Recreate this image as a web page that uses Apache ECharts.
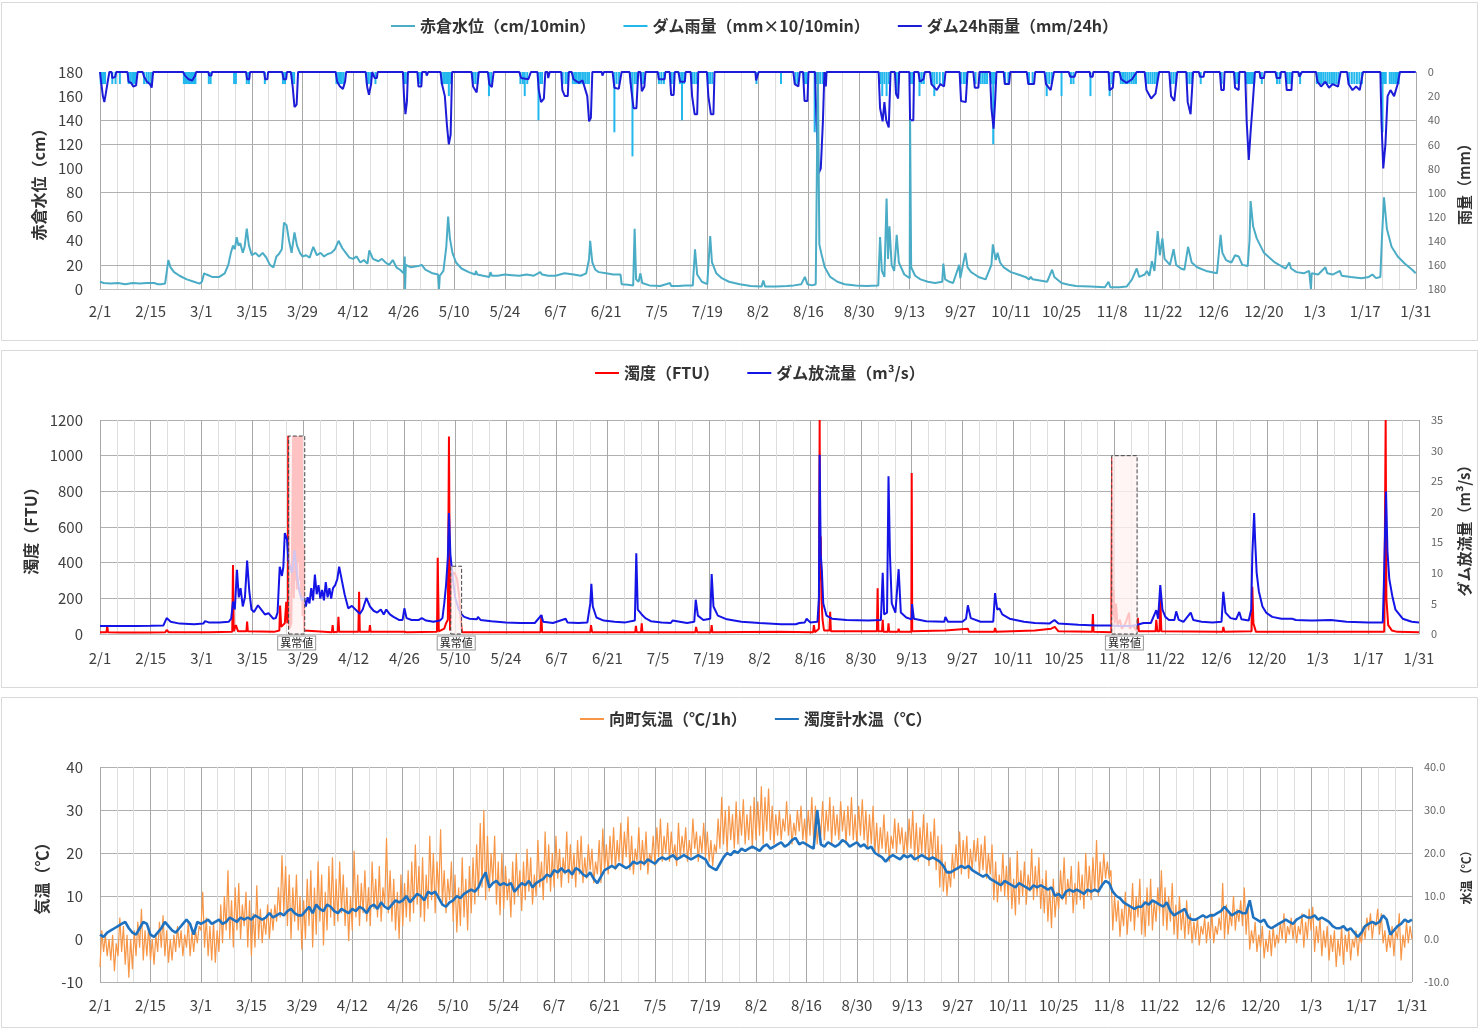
<!DOCTYPE html>
<html>
<head>
<meta charset="utf-8">
<title>赤倉 水位・濁度・水温</title>
<script src="https://cdn.jsdelivr.net/npm/echarts@6/dist/echarts.min.js"></script>
<style>
  html, body { margin: 0; padding: 0; background: #fff; }
  #chart { width: 1480px; height: 1029px; }
</style>
</head>
<body>
<div id="chart"></div>
<script>
var FONT = '"Noto Sans CJK JP", "Noto Sans", sans-serif';

// x axis is days since 2/1, one label every 14 days
var TICK_LABELS = ['2/1', '2/15', '3/1', '3/15', '3/29', '4/12', '4/26', '5/10', '5/24', '6/7', '6/21',
  '7/5', '7/19', '8/2', '8/16', '8/30', '9/13', '9/27', '10/11', '10/25', '11/8', '11/22', '12/6',
  '12/20', '1/3', '1/17', '1/31'];

// --- panel 1: water level (cm) and rain (mm, inverted right axis) ---
var LEVEL = [
  [0,6],[0.5,7],[1,5],[3,4.5],[5,5],[7,4],[9,5],[11,4.5],[13,5],[15,5],[16,4],[17,4],[18,4.5],[18.5,15],[18.9,24],
  [19.5,18],[20.5,14],[22,11],[24,8],[26,6],[27.5,4.5],[28.2,6],[28.8,13],[29.5,12],[31,10],[33,10],[34.5,13],
  [35.5,20],[36.2,30],[36.8,36],[37.3,33],[37.8,43],[38.3,36],[38.8,38],[39.5,30],[40,35],[40.6,50],[41.2,36],
  [42,28],[43,30],[44,27],[45,30],[46,26],[47,20],[48,18],[48.8,27],[49.5,29],[50.3,33],[50.9,55],[51.6,53],
  [52.3,40],[53,30],[53.8,47],[54.5,36],[55.3,30],[56,27],[57,28],[58,26],[59,35],[60,28],[61,30],[62,27],
  [63,29],[64,30],[65,33],[66,40],[67,34],[68,30],[69,26],[70,25],[71,27],[72,22],[73,24],[74,21],[74.5,32],
  [75.5,25],[77,23],[78,25],[79,22],[80,20],[81,24],[82,18],[83,16],[84,13],[84.3,27],[84.4,0],[84.6,20],
  [86,18],[88,19],[89,20],[90,16],[92,13],[93.5,12],[93.8,0],[94,11],[95,15],[95.8,35],[96.3,60],[96.8,42],
  [97.5,30],[98.5,22],[100,17],[102,14],[103.8,12],[104,15],[104.4,12],[106,11],[107.7,10],[108,14],[108.4,11],
  [110,11],[112,12],[114,11.5],[116,11],[118,12],[120,11],[121.8,14],[122.3,12],[124,11],[126,11],[128.5,13],
  [129,11.5],[131,12],[133,11],[134.5,13],[135.3,25],[135.6,40],[136.2,22],[137,16],[138,14],[140,13],[142,12],
  [144,12],[144.3,4],[146,3.5],[147.5,3],[147.9,50],[148.3,8],[149,6],[149.5,13],[150,5],[152,3],[155,2.5],
  [157.7,5],[158,2.5],[160,2.5],[162,3],[164,3],[164.6,33],[165.2,12],[166.5,6],[168,4],[168.8,44],[169.3,22],
  [170.5,13],[172,9],[174,6],[177,4],[180,2.5],[183,2],[183.5,7],[184,2],[187,2],[190,2.5],[192,3],[194,4],
  [195,10],[195.7,4],[197,3],[198,4],[198.6,180],[199,37],[199.5,30],[200.5,18],[202,10],[204,6],[206,4],
  [209,3],[212,2.5],[215.3,3],[215.8,43],[216.3,15],[217,10],[217.6,75],[218,25],[218.4,52],[219,20],
  [219.7,15],[220.4,45],[221,22],[222.5,12],[224,9],[224.1,140],[224.4,18],[225.5,11],[227,8],[229,6],[231,5],
  [233,6],[233.3,21],[233.8,8],[235,6],[236,5],[237.7,20],[238,9],[239.4,30],[240,18],[241,14],[242,12],
  [243,10],[245,8],[246.6,20],[247,37],[247.8,24],[248.3,30],[249,22],[250,18],[252,14],[254,12],[256,10],
  [257,8],[257.5,10],[258,8],[260,7],[262,6],[263.4,16],[264,10],[266,5],[268,3.5],[270,2.5],[274,2],[278,1.5],
  [279,6],[279.5,1.5],[282,1.5],[284,2],[285.5,8],[286.8,17],[287.5,10],[289,12],[289.6,15],[290.3,11],[291,23],
  [291.7,15],[292.6,48],[293.2,28],[293.9,42],[294.5,25],[296,20],[297,33],[297.7,20],[299,17],[300,16],
  [301,35],[302,22],[303.5,18],[306,15],[309,13],[310,45],[310.5,30],[311.5,24],[313,22],[314,28],[315,27],
  [316,20],[317.5,19],[318,40],[318.3,73],[319,52],[320,42],[322,30],[325,22],[328,17],[329,22],[329.5,17],
  [331,14],[333,13],[334.5,15],[335,0],[335.2,13],[337,12],[339,18],[339.5,13],[341,12],[343,15],[343.5,11],
  [346,10],[349,9],[351,10],[352,12],[353,9],[354.2,10],[354.6,40],[355.2,76],[356,50],[357.3,35],[359,27],
  [361,21],[363,16],[364,13]
];

var RAIN_10MIN = [
  [0.2,10],[0.5,10],[0.8,10],[1.1,10],[1.4,10],[3.4,10],[4.3,10],[5.5,10],[7.9,10],[8.4,10],[8.9,10],[9.4,10],
  [9.9,10],[12.2,10],[12.9,10],[13.5,10],[14.2,10],[23.2,10],[23.6,10],[24,10],[24.4,10],[24.8,10],[25.2,10],
  [25.6,10],[26,10],[26.4,10],[30.1,10],[30.6,10],[37.1,10],[37.6,10],[40.6,10],[41.2,10],[45.6,10],[50.6,10],
  [51.2,10],[53.2,10],[53.7,10],[65.4,10],[65.9,10],[66.4,10],[66.9,10],[67.4,10],[73.8,10],[74.3,10],[74.8,10],
  [76.2,10],[84.2,10],[84.6,10],[88.2,10],[88.7,10],[94.5,10],[95,10],[95.4,10],[95.8,10],[96.2,10],[96.5,20],
  [96.9,10],[103.2,10],[103.8,10],[104.4,10],[107.6,20],[108.2,10],[116.3,10],[117,10],[117.5,20],[118.2,10],
  [121.3,40],[121.8,10],[122.3,10],[128,10],[128.8,10],[129.3,10],[130.8,10],[131.4,10],[131.9,10],[132.5,10],
  [133,10],[133.6,10],[134.2,10],[134.8,10],[135.3,10],[142.3,50],[142.9,10],[143.6,10],[146.8,10],[147.3,70],
  [147.9,10],[148.4,10],[149.8,10],[150.3,10],[154.6,10],[155.3,10],[156,10],[158,10],[158.6,10],[160.4,10],
  [161,40],[161.6,10],[163.8,10],[164.4,10],[165,10],[168.3,10],[168.8,10],[169.4,10],[181.6,10],[188.4,10],
  [192.4,10],[193,10],[195,10],[195.5,10],[197.7,50],[198.3,10],[198.8,10],[199.3,10],[200,10],[215.9,10],
  [216.4,20],[217,10],[217.6,20],[218.2,10],[220.4,20],[220.9,10],[224.3,10],[224.8,10],[226.7,20],[227.3,10],
  [227.9,10],[230.2,10],[230.8,20],[231.5,10],[232.3,10],[233.2,10],[238.3,10],[239,10],[239.6,10],[242.2,10],
  [243.6,10],[244.2,10],[244.8,10],[245.4,10],[246.7,10],[247.1,60],[247.5,10],[250.4,10],[251.3,10],[257,10],
  [258,10],[261.9,20],[262.6,10],[263.3,10],[266,20],[268.6,10],[269.3,10],[274,20],[279.3,20],[280,10],
  [282.4,10],[283,10],[283.6,10],[284.2,10],[284.8,10],[285.4,10],[286,10],[286.6,10],[289.4,10],[290,10],
  [290.6,10],[291.2,10],[291.8,10],[292.4,10],[296.4,10],[297,10],[297.6,10],[300.8,10],[301.4,10],[302,10],
  [304.5,10],[310.3,10],[314.2,10],[314.8,10],[317.3,10],[317.7,10],[318.1,10],[318.5,10],[318.9,10],[319.3,10],
  [321.4,10],[325.6,10],[326.3,10],[328.4,10],[329,10],[329.5,10],[332,10],[336.6,10],[337.2,10],[337.8,10],
  [338.4,10],[339,10],[339.6,10],[340.2,10],[340.8,10],[341.4,10],[342,10],[342.6,10],[345.6,10],[346.3,10],
  [347,10],[347.7,10],[348.4,10],[349.1,10],[354.4,10],[354.8,50],[355.2,10],[355.7,10],[356.8,10],[357.3,10],
  [357.8,10],[358.3,10],[358.8,10],[359.3,10]
];

var RAIN_24H = [
  [0,0],[0.3,8],[0.8,20],[1.2,25],[1.6,18],[2.3,5],[2.6,0],[3.2,0],[3.4,5],[4.2,4],[4.5,0],
  [7.6,0],[7.9,8],[8.6,9],[9.2,12],[10,11],[10.4,0],[11.8,0],[12.2,4],[13,8],[13.8,10],[14.3,13],[14.7,0],
  [23,0],[23.5,3],[24.5,6],[25.5,7],[26.3,3],[26.6,0],[30,0],[30.2,3],[30.8,3],[31,0],
  [40.4,0],[40.7,6],[41.3,6],[41.5,0],[45.4,0],[45.7,6],[46.3,6],[46.5,0],[50.4,0],[50.8,6],[51.5,6],[51.7,0],
  [52.8,0],[53.3,12],[53.8,29],[54.4,27],[54.8,0],[65.2,0],[65.6,8],[66.4,12],[67.2,14],[67.8,8],[68.1,0],
  [73.5,0],[73.9,12],[74.4,19],[75,10],[75.3,0],[75.8,0],[76,5],[76.6,5],[76.8,0],
  [83.8,0],[84.1,20],[84.5,35],[84.9,25],[85.2,0],[87.8,0],[88.1,12],[88.9,12],[89.1,0],[90.2,0],[90.4,3],[90.8,0],
  [94.2,0],[94.6,10],[95.4,20],[96,45],[96.5,60],[97,52],[97.4,0],[102.8,0],[103.2,12],[104.2,17],[104.8,0],
  [107.3,0],[107.7,10],[108.4,12.6],[108.9,0],[116,0],[116.5,5],[118.5,6],[119.2,0],
  [121,0],[121.4,15],[122,25],[122.8,22],[123.2,0],[123.8,0],[124,5],[124.4,0],
  [127.6,0],[127.9,15],[128.6,20],[129.4,20],[129.7,0],[130.5,0],[131,6],[132.5,9],[133.5,7],[134.8,20],
  [135.3,41],[135.8,38],[136.2,0],[138.8,0],[139,3],[139.4,0],[141.8,0],[142.3,13],[143.5,14],[144.3,0],
  [146.5,0],[147,15],[147.6,30],[148.4,30],[148.9,0],[149.5,0],[149.9,16],[150.6,12],[150.9,0],
  [154.3,0],[154.6,6],[156.2,6],[156.4,0],[157.6,0],[158,19],[158.7,19],[159,0],[160,0],[160.5,8],[161.8,8],[162,0],
  [163.4,0],[163.8,20],[164.5,35],[165.2,35],[165.5,0],[167.9,0],[168.3,20],[169,35],[169.7,35],[170,0],
  [181.3,0],[181.5,7],[182,7],[182.2,0],[191.8,0],[192.2,10],[193.2,12],[193.6,0],[194.5,0],[194.9,24],
  [195.7,24],[196,0],[197.8,0],[198.2,40],[198.8,84],[199.4,80],[200,40],[200.4,0],[200.6,0],[200.8,12],[201,0],
  [215.4,0],[215.8,30],[216.5,41],[217,25],[217.5,40],[218.2,46],[218.7,0],[219.9,0],[220.2,18],[220.8,22],[221.1,0],
  [223.9,0],[224.1,40],[225,40],[225.2,0],[226.4,0],[226.8,8],[227.8,6],[228.2,0],
  [229.6,0],[230,10],[231.5,15],[232.5,10],[233.5,12],[233.9,0],[237.8,0],[238.2,24],[239.5,25],[240,0],
  [241.6,0],[242,13],[243,13],[243.3,0],[246.2,0],[246.6,30],[247.2,47],[247.7,20],[248,0],
  [250,0],[250.3,10],[251.5,10],[251.8,0],[256.4,0],[256.8,10],[258.4,10],[258.7,0],
  [261.3,0],[261.7,10],[263,15],[263.9,0],[268,0],[268.4,4],[269.6,4],[270,0],[273.8,0],[274,4],[274.6,4],[274.8,0],
  [279,0],[279.3,15],[280.2,13],[280.5,0],[282,0],[282.5,6],[284,9],[285.5,6],[286.8,0],
  [289,0],[289.5,15],[290.8,22],[292,18],[293,0],[295.8,0],[296.3,20],[297.2,24],[298,0],
  [300.5,0],[300.9,25],[301.7,35],[302.4,0],[304,0],[304.3,4],[305.3,4],[305.5,0],
  [309.8,0],[310.2,15],[310.9,15],[311.1,0],[313.7,0],[314,13],[315,15],[315.2,0],
  [316.8,0],[317.2,40],[317.8,73],[318.3,50],[318.8,30],[319.5,0],[320.8,0],[321,5],[322,5],[322.2,0],
  [325.2,0],[325.5,5],[326.5,5],[326.7,0],[327.9,0],[328.3,15],[329.6,15],[329.9,0],[331.5,0],[331.8,4],[332.5,0],
  [336.4,0],[336.8,8],[337.8,12],[339,8],[340,13],[341,10],[342.5,12],[343.2,0],
  [345,0],[345.4,10],[346.5,15],[347.5,12],[348.5,15],[349.4,0],
  [354.2,0],[354.5,40],[355,80],[355.6,60],[356.2,20],[357,15],[358,20],[359,10],[359.6,0],[364,0]
];

// value lines of the left axis that carry a grid line in panel 1
var P1_GRID_LINES = [20, 80, 120, 140];

// --- panel 2: turbidity (FTU) and dam discharge (m3/s) ---
var TURBIDITY = [
  [0,10],[1.8,10],[2,45],[2.2,10],[6,8],[12,8],[18,10],[18.4,22],[19,10],[30,10],[36.5,12],[36.7,387],[36.9,15],
  [37.5,50],[37.8,60],[38.1,15],[40.4,15],[40.6,70],[40.8,15],[48,12],[49.5,20],[49.7,160],[50,40],[51,60],
  [51.4,180],[51.7,60],[51.85,100],[51.95,1112],[52.1,1112],[52.3,30],[52.8,60],[53.3,1110],[53.5,200],
  [53.7,1110],[53.9,300],[54.1,1110],[54.3,250],[54.5,1110],[54.7,400],[54.9,1110],[55.1,300],[55.3,1110],
  [55.5,200],[55.7,1110],[55.9,100],[56.1,500],[56.3,20],[56.6,10],[64,10],[64.2,50],[64.4,10],[65.6,12],
  [65.8,97],[66,12],[71.3,12],[71.5,237],[71.7,12],[74.3,12],[74.5,50],[74.7,12],[84,12],[84.3,18],[84.6,10],
  [93,12],[93.2,428],[93.35,220],[93.5,15],[95,30],[95.5,60],[96,80],[96.3,1107],[96.6,20],[96.8,150],[97,380],
  [97.3,330],[97.8,345],[98.5,310],[99.2,200],[99.6,60],[99.9,10],[110,10],[121.6,10],[121.8,106],[122,10],
  [128.3,10],[128.5,20],[128.7,10],[135.3,10],[135.5,50],[135.8,10],[147.7,10],[147.9,45],[148.1,10],[149.3,10],
  [149.5,60],[149.7,10],[164.3,10],[164.5,40],[164.8,10],[168.6,10],[168.8,50],[169,10],[187.5,12],[196.8,10],
  [197,50],[197.3,10],[198.4,30],[198.6,1200],[198.75,300],[198.9,546],[199.1,200],[199.4,80],[199.8,20],
  [201.3,20],[201.5,125],[201.7,15],[214.4,15],[214.6,256],[214.8,15],[215.8,15],[216,80],[216.2,12],[217.4,12],
  [217.6,60],[217.8,12],[220.2,12],[220.4,30],[220.6,12],[223.9,12],[224,903],[224.15,15],[233.3,20],[233.5,12],
  [239.5,30],[239.8,12],[246.8,12],[247,34],[247.3,12],[258,20],[258.3,12],[262.5,30],[263.5,40],[264.5,15],
  [273.8,12],[274,112],[274.2,12],[279.1,10],[279.3,990],[279.5,100],[279.7,250],[280,60],[280.4,170],[280.8,50],
  [281.5,80],[282,30],[283,60],[284,120],[284.2,30],[285,50],[286,20],[286.2,12],[286.4,90],[286.7,15],
  [291.3,15],[291.5,80],[291.8,15],[292.4,15],[292.6,200],[292.9,15],[309.8,12],[310,40],[310.3,12],[317.8,15],
  [318,265],[318.3,60],[318.6,40],[319,12],[354.4,12],[354.6,20],[354.8,1200],[355,200],[355.5,50],[356.5,20],
  [358,12],[364,10]
];

var DISCHARGE = [
  [0,1.3],[5,1.3],[10,1.3],[14,1.35],[17.5,1.4],[18.4,2.6],[19.5,2],[22,1.7],[26,1.6],[28.5,1.7],[29,2.1],
  [30,1.9],[33,1.9],[35.5,2],[36.2,2.5],[36.7,5.3],[37.2,4],[37.8,10.5],[38.3,6],[38.8,7.5],[39.4,4.5],[40,6],
  [40.6,12],[41.2,7],[41.8,4],[42.5,3.6],[43.6,4.7],[44.5,4],[45.5,3.2],[46.5,3.4],[47.8,2.5],[48.5,2.6],
  [49,3.5],[49.6,11],[50.2,9.5],[50.6,11],[51,16.5],[51.6,15.5],[52,12],[53,10],[53.7,13.7],[54.3,10],[55,7],
  [55.7,5.5],[56.3,6],[56.8,4.5],[57.3,6],[57.8,5],[58.3,7.5],[58.8,5.5],[59.3,9.7],[59.8,6.5],[60.3,8],
  [60.8,5.8],[61.3,7.2],[61.8,5.5],[62.3,8.5],[62.8,6],[63.3,7.5],[63.8,5.8],[64.3,7.5],[64.9,8],[65.5,9],
  [66,11],[66.5,9.5],[67,8],[67.5,6.5],[68.5,4.2],[69.5,4.6],[70.5,4],[71.7,3.3],[72.5,4],[73.5,5.9],[74.5,4.5],
  [75.5,3.8],[76.5,3.5],[77.5,4],[78.3,3.2],[79,4],[80,3.2],[81,2.8],[82.5,2.3],[83.5,2.3],[84,4.2],[84.6,2.6],
  [86,2.3],[88,2.3],[88.8,2.6],[90,2.2],[92,2],[93.8,2.2],[94.5,2.6],[95,5],[95.5,8],[96,12.6],[96.3,19.8],
  [96.7,13],[97.2,10],[98,6],[99,4],[99.8,3.2],[100.5,2.8],[102,2.5],[104,2.4],[104.3,2.8],[105,2.3],[108,2.1],
  [112,1.9],[116,1.8],[120,1.8],[121.8,3.1],[122.3,2],[125,1.8],[128.5,2.5],[129,1.9],[132,1.8],[134.5,1.9],
  [135.3,5],[135.6,8.2],[136,4.5],[137,2.7],[139,2.2],[142,2],[145,1.9],[147.6,2.2],[148,13.2],[148.4,4],
  [149.5,3.2],[150.5,2.6],[152,2.1],[155,1.9],[157.5,1.8],[158,2.2],[158.5,1.9],[162,1.8],[164,2],[164.4,5.6],
  [165,3],[166.5,2.3],[168.4,2.5],[168.8,9.8],[169.3,4.5],[170.5,3],[173,2.4],[177,2],[182,1.8],[188,1.6],
  [192,1.6],[193,1.8],[194.5,1.9],[195,2.5],[196,1.9],[198,2],[198.4,6],[198.6,29.3],[198.9,13],[199.2,10.5],
  [199.6,5],[200.5,3],[202,2.5],[206,2.3],[212,2.2],[215.5,2.3],[216,10],[216.4,3.2],[217.2,3.5],[217.6,25.8],
  [218,13],[218.5,5],[219.5,3.5],[220.4,10.6],[221,3.5],[222.5,2.7],[224,2.4],[224.1,4.9],[224.6,2.5],[228,2.1],
  [233,2],[233.3,2.8],[234,2],[238,2],[239,2.5],[239.5,4.7],[240.3,2.6],[243,2],[246.5,2],[247,6.7],[247.6,4],
  [248.2,4.2],[249,3.2],[251,2.5],[255,2],[258,1.8],[258.5,2],[262,1.7],[263.4,2.3],[264.5,1.7],[270,1.5],
  [275,1.4],[279,1.4],[281,1.3],[283,1.3],[285,1.3],[286.2,1.5],[288,1.8],[290,1.8],[291.5,3.9],[292,2.5],
  [292.6,8],[293.2,4],[294,2.8],[295,2.3],[296.5,2.3],[297,3.7],[297.7,2.3],[299,2],[301,3.5],[301.7,2.3],
  [304,2],[307,1.9],[309.5,2],[310,6.9],[310.6,3.5],[312,2.6],[313.5,2.4],[314.4,3.6],[315,2.4],[317,2.2],
  [317.7,4],[318,13],[318.5,19.8],[318.8,15],[319.2,10],[319.8,7],[320.8,4.5],[321.8,3.5],[323.5,2.8],[326,2.5],
  [329,2.5],[329.5,2.8],[330,2.3],[334,2.2],[335,2.2],[339.7,2.3],[340,2.1],[344,2],[350,1.9],[354,1.9],
  [354.3,8],[354.6,15.7],[354.9,23.3],[355.3,13.5],[355.8,9],[356.7,6],[357.5,4],[359.5,2.5],[362,2],[364,1.9]
];

// boxed "異常値" ranges: [from day, to day, top in FTU]
var ANOMALIES = [[52.05, 56.5, 1110], [96.8, 99.8, 380], [279.2, 286.2, 1000]];

// --- panel 3: air temperature, low/high every half day from 2/1 ---
var AIR_TEMP = [
  -6.5,2,-3,1,-4,0,-5,1,-7.5,-1,-4,5,-3,3,-6,1,-9,0,-7,2,-4,4,-2,7,-5,2,-4,3,
  -5,0,-6,1,-3,4,-2,5.5,-4,2,-5.5,0,-5,1,-3,3,-2,2,-4,1,-2,4,-4,1.5,-3,2,-1,3,
  2,11,-2,5,-4,3,-5,4,-5.5,2,-3,8,-1,10,2,16,0,9,-2,12,2,13,0,8,3,11,-2,9,
  -4,6,-2,12.5,0,7,-1,5,1,8,0,7,2,8,4,12,5,19.5,6,17,3,15,0,12,4,15,2,10,
  -2.5,9,0,14,3,16,-2,12,1,18,4,15,-1.5,11,2,17,5,19,3,14,4,18,6,15,3,12,-0.5,10,
  2,20.5,5,15,3,13,6,16,4,12,3,18,7,14,5,17,4,12,8,23.5,6,16,4,14,2,11,0,15,
  3,13,5,16,4,18,6,22,8,17,5,19,4,15,7,24,9,20,6,18,10,25.5,8,16,6,14,9,18,
  4,15,1.5,12,3,19,5,14,2,17,6,19,8,22,10,27,12,30,9,24,11,20,13,24,8,18,5.5,20,
  7,17,9,14,5,18,8,20,10,16,6.5,18,9,21,11,19,8,15,10,23,12,18,9,25,13,22,11,20,
  12,24,14,21,12,19,15,25,13,22,14,20,12,23,15,24,13,19,14,22,16,21,13,18,15,23,13,25.7,
  16,22,15,24,17,26,16,23,18,27,17,25,19,28.5,16,24,15,21,18,26,16,23,17,25,15,20,18,24,
  17,26,19,28,18,24,20,27,18,25,19,22,17,27,19,24,20,26,18,23,19,28,21,25,18,24,20,27,
  19,25,18,23,17,22,20,28,21,33,22,30,20,31,23,29,21,32,22,30,24,32.5,22,29,23,31,21,33,
  23,32,24,35.5,22,33,25,35,23,31,22,29,24,30,23,28,25,32,24,29,22,27,24,30,25,31,23,28,
  22,30,24,33,23,31,22,28,24,32,23,30,25,33,22,31,24,29,23,32,25,30,22,31,24,33,23,29,
  22,31,24,32.5,23,30,21,29,22,31,20,27,19,26,21,29,20,25,18,24,21,28,20,27,22,26,19,25,
  20,28,21,30,19,27,18,26,20,29,19,27,17,25,19,28,16,24,12,22,11,18,10,16,12,20,14,22,
  16,25,15,23,17,24,14,21,16,23,18,23.5,15,22,16,24,14,20,15,22,9,18,8.5,15,11,20,10,17,
  9,19,7,14,5.5,20.5,8,16,10,18,8,15,11,21,9,17,10,19,7,14,6,16,4,12,2.5,14,5,11,
  7,16,9,19,8,14,10,17,6,13,8,18,9,15,7,20,10,17,9,19,11,23,10,18,12,20,14,18,
  14,16,2,10,4,9,0.5,7,3,11,1,8,4,13,2,10,5,14,1,9,0.5,12,3,14,2,9,4,12,
  6,16,3,12,2,10,4,13,1,8,0,10,2,7,0,9,1,6,-1,4,0,5,-1.5,3,1,5,-1,4,
  0,6,-1,3,1,5,2,13,0,8,1,6,3,10,2,7,4,9,3,12,1,8,-2.5,2,-1,4,-3,1,
  -2,3,-4.5,0,-3,2,-4,3,-2,1,-1,4,0,6,-1,3,1,5,0,4,-1,3,1,6,-2,4,0,7,
  2,7.5,-3,3,-1,5,-4,2,-2,3,-5,1,-3,2,-6.5,0,-4,3,-6,1,-3,2,-5,0,-2,2,-4,1,
  -1,3,0,5,2,6,0,4,3,7,1,6,-1,2,-3,1,-2,3,-4,2,0,6,-5,1,-2,4,-1,3,
  0
];

// water temperature at the turbidity meter, one value a day from 2/1
var WATER_TEMP = [
  1,0.5,1.5,2,2.5,3,3.5,4,2.5,1.5,1,2.5,4,3.5,1,0.5,1.5,2.5,4,3,2,1.5,2.5,3.5,4.5,3.5,1,4,
  3.5,4,4.5,3.5,4,4.5,3.5,4,5,4.5,4,5,4.5,5,4.5,5.5,5,4.5,5,6,5,5.5,6,5.5,6.5,7,6,5.5,
  5.5,6.5,7.5,6,8,7,6.5,8,7.5,6.5,6,7,6.5,6,7,6.5,7.5,7,6,7.5,8,7,8.5,7.5,7,8,9,8.5,
  9,10,8.5,9.5,10.5,10,9,11,10.5,11,9.5,8,7.5,8.5,9,10,9.5,10.5,11,11.5,11,12,14,15.5,12,13,13.5,12.5,
  13,12.5,13,11,12,13,12.5,13.5,12,13,13.5,14,15,14.5,16,15.5,16.5,15.5,16,15,16.5,16,15,14.5,15.5,14,13,14.5,
  16,16.5,17,16.5,17.5,17,16.5,17,18,17.5,18,17.5,18.5,18,17.5,18.5,19,18.5,19,19.5,18.5,19,19.5,19,18.5,19,19.5,19,
  18.5,17,16.5,16,17.5,19,20,19.5,20.5,20,21,20.5,21,21.5,21,20.5,21.5,22,21,21.5,22,22.5,21.5,22,23,23.5,22,22.5,
  22,21.5,21,30,22,21.5,22.5,22,21.5,22,23,22.5,21.5,22,22.5,21.5,22,21,21.5,20,19.5,19,18,19,19.5,19,18.5,19.5,
  19,19.5,18.5,19,19.5,19,18.5,19,18.5,18,17,15.5,15.5,16,16.5,17,16.5,17,16,15.5,15,14.5,15,14,13.5,13,12.5,13.5,
  13,12.5,12,13,12.5,12,11.5,12.5,12,12.5,12,11.5,12,10,10.5,9.5,11,11.5,11,11.5,11,10.5,11.5,11,11.5,11,12.5,13.5,
  13,11,10,9.5,8.5,8,7.5,7,7.5,7.5,8.5,8,9,8.5,8,7.5,8.5,6.5,5.5,6,6.5,7,5,4.5,4.5,5,5.5,5,
  5.5,5.5,6,6.5,7.5,6.5,5.5,6,6.5,6,6,9,5,4.5,4,4.5,3,2.5,3,3.5,4,4.5,4,3.5,4.5,5,5.5,5,
  5,5.5,4.5,5,4.5,4,3,2.5,2.5,3,2,2.5,1.5,0.5,1.5,3,3.5,4,3.5,4,5.5,4.5,1,2,3,3.5,4.5,4,4.5
];

function byStep(values, step) {
  return values.map(function (v, i) { return [i * step, v]; });
}

function dayAxis(gridIndex, margin) {
  return {
    type: 'value', gridIndex: gridIndex, min: 0, max: 364, interval: 14,
    axisLine: { lineStyle: { color: '#bfbfbf' } },
    axisTick: { show: false },
    axisLabel: {
      color: '#404040', fontSize: 15, fontFamily: FONT, margin: margin,
      formatter: function (v) { return TICK_LABELS[Math.round(v / 14)] || ''; }
    },
    splitLine: { show: true, lineStyle: { color: '#a8a8a8' } },
    minorTick: { show: true, splitNumber: 3, length: 0 },
    minorSplitLine: { show: true, lineStyle: { color: '#dedede' } }
  };
}

function leftAxis(gridIndex, o) {
  return {
    type: 'value', gridIndex: gridIndex, position: 'left', min: o.min, max: o.max, interval: o.interval,
    name: o.name, nameLocation: 'middle', nameRotate: 90, nameGap: o.nameGap,
    nameTextStyle: { fontSize: 16, fontWeight: 'bold', color: '#333', fontFamily: FONT },
    axisLine: { show: false }, axisTick: { show: false },
    axisLabel: { color: '#404040', fontSize: 15, fontFamily: FONT, margin: 17,
      formatter: function (v) { return String(v); } },
    splitLine: { show: o.split, lineStyle: { color: '#b0b0b0' } }
  };
}

function rightAxis(gridIndex, o) {
  return {
    type: 'value', gridIndex: gridIndex, position: 'right', min: o.min, max: o.max, interval: o.interval,
    inverse: !!o.inverse,
    name: o.name, nameLocation: 'middle', nameRotate: 90, nameGap: o.nameGap,
    nameTextStyle: { fontSize: o.nameSize, fontWeight: 'bold', color: '#333', fontFamily: FONT },
    axisLine: { show: false }, axisTick: { show: false },
    axisLabel: { color: '#666', fontSize: 11, fontFamily: FONT, margin: 12, formatter: o.formatter },
    splitLine: { show: false }
  };
}

function legendAt(left, top, names) {
  return {
    left: left, top: top, itemGap: 28, itemWidth: 24, itemHeight: 2, icon: 'rect',
    textStyle: { fontSize: 16, fontWeight: 'bold', color: '#333', fontFamily: FONT },
    data: names
  };
}

var chart = echarts.init(document.getElementById('chart'), null, { renderer: 'canvas' });

chart.setOption({
  animation: false,
  backgroundColor: '#fff',
  graphic: [
    { type: 'rect', z: -10, silent: true, shape: { x: 1.5, y: 2.5, width: 1476, height: 338 }, style: { fill: 'none', stroke: '#d9d9d9' } },
    { type: 'rect', z: -10, silent: true, shape: { x: 1.5, y: 350.5, width: 1476, height: 337 }, style: { fill: 'none', stroke: '#d9d9d9' } },
    { type: 'rect', z: -10, silent: true, shape: { x: 1.5, y: 697.5, width: 1476, height: 330 }, style: { fill: 'none', stroke: '#d9d9d9' } }
  ],
  legend: [
    legendAt(386, 13, ['赤倉水位（cm/10min）', 'ダム雨量（mm×10/10min）', 'ダム24h雨量（mm/24h）']),
    legendAt(590, 360, ['濁度（FTU）', 'ダム放流量（m³/s）']),
    legendAt(575, 706, ['向町気温（℃/1h）', '濁度計水温（℃）'])
  ],
  grid: [
    { left: 100, right: 60, top: 72, height: 217 },
    { left: 100, right: 60, top: 420, height: 214 },
    { left: 100, right: 60, top: 767, height: 215 }
  ],
  xAxis: [dayAxis(0, 15), dayAxis(1, 17), dayAxis(2, 16)],
  yAxis: [
    leftAxis(0, { min: 0, max: 180, interval: 20, name: '赤倉水位（cm）', nameGap: 53, split: false }),
    rightAxis(0, { min: 0, max: 180, interval: 20, inverse: true, name: '雨量（mm）', nameGap: 40, nameSize: 15 }),
    leftAxis(1, { min: 0, max: 1200, interval: 200, name: '濁度（FTU）', nameGap: 61, split: true }),
    rightAxis(1, { min: 0, max: 35, interval: 5, name: 'ダム放流量（m³/s）', nameGap: 38, nameSize: 15 }),
    leftAxis(2, { min: -10, max: 40, interval: 10, name: '気温（℃）', nameGap: 49, split: true }),
    rightAxis(2, { min: -10, max: 40, interval: 10, name: '水温（℃）', nameGap: 46, nameSize: 12,
      formatter: function (v) { return v.toFixed(1); } })
  ],
  series: [
    // panel 1 grid lines, below everything
    {
      name: 'grid1', type: 'line', xAxisIndex: 0, yAxisIndex: 0, data: [], z: 1, silent: true,
      markLine: {
        silent: true, symbol: 'none', label: { show: false }, z: 1,
        lineStyle: { color: '#b0b0b0', type: 'solid', width: 1 },
        data: P1_GRID_LINES.map(function (v) { return { yAxis: v }; })
      }
    },
    {
      name: 'ダム雨量（mm×10/10min）', type: 'bar', xAxisIndex: 0, yAxisIndex: 1, barWidth: 2, z: 2,
      itemStyle: { color: '#22b8ee' }, data: RAIN_10MIN
    },
    {
      name: 'ダム24h雨量（mm/24h）', type: 'line', xAxisIndex: 0, yAxisIndex: 1, symbol: 'none', z: 3,
      lineStyle: { color: '#1c1cd8', width: 2 }, itemStyle: { color: '#1c1cd8' }, data: RAIN_24H
    },
    {
      name: '赤倉水位（cm/10min）', type: 'line', xAxisIndex: 0, yAxisIndex: 0, symbol: 'none', z: 4,
      lineStyle: { color: '#4bacc6', width: 2 }, itemStyle: { color: '#4bacc6' }, data: LEVEL
    },
    // panel 2
    {
      name: '濁度（FTU）', type: 'line', xAxisIndex: 1, yAxisIndex: 2, symbol: 'none', z: 3,
      lineStyle: { color: '#ff0000', width: 2 }, itemStyle: { color: '#ff0000' }, data: TURBIDITY
    },
    {
      name: 'ダム放流量（m³/s）', type: 'line', xAxisIndex: 1, yAxisIndex: 3, symbol: 'none', z: 4,
      lineStyle: { color: '#1414e6', width: 2 }, itemStyle: { color: '#1414e6' }, data: DISCHARGE
    },
    // translucent boxes over the suspect readings
    {
      name: 'anomaly', type: 'line', xAxisIndex: 1, yAxisIndex: 2, data: [], z: 6, silent: true,
      markArea: {
        silent: true, z: 20,
        itemStyle: { color: 'rgba(255,242,242,0.8)', borderColor: '#444', borderWidth: 1, borderType: 'dashed' },
        label: {
          show: true, position: 'bottom', distance: 2, formatter: '異常値', fontSize: 11, color: '#222',
          fontFamily: FONT, backgroundColor: '#fff', borderColor: '#999', borderWidth: 1, padding: [1, 2]
        },
        data: ANOMALIES.map(function (a) { return [{ xAxis: a[0], yAxis: 0 }, { xAxis: a[1], yAxis: a[2] }]; })
      }
    },
    // panel 3
    {
      name: '向町気温（℃/1h）', type: 'line', xAxisIndex: 2, yAxisIndex: 4, symbol: 'none', z: 3,
      lineStyle: { color: '#f79646', width: 1.2 }, itemStyle: { color: '#f79646' }, data: byStep(AIR_TEMP, 0.5)
    },
    {
      name: '濁度計水温（℃）', type: 'line', xAxisIndex: 2, yAxisIndex: 5, symbol: 'none', z: 4,
      lineStyle: { color: '#1f72c0', width: 2.6 }, itemStyle: { color: '#1f72c0' }, data: byStep(WATER_TEMP, 1)
    }
  ]
});
</script>
</body>
</html>
